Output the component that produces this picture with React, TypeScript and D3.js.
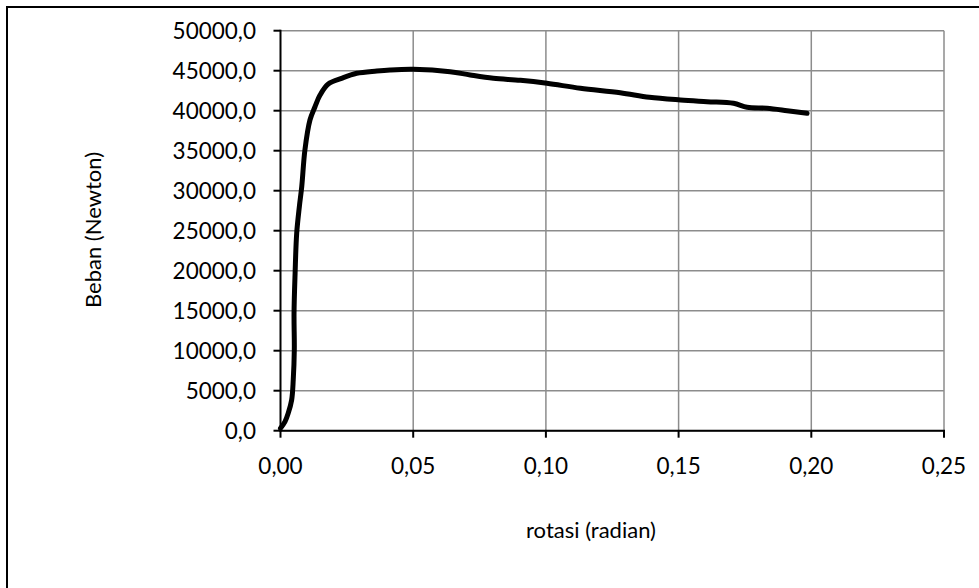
import React from "react";
import * as d3 from "d3";

const rotasi = [0, 0.0017, 0.0029, 0.0042, 0.0048, 0.0052, 0.0051, 0.0055, 0.0061, 0.0071, 0.008, 0.0092, 0.0111, 0.013, 0.0149, 0.018, 0.023, 0.0287, 0.0363, 0.0413, 0.05, 0.0639, 0.0715, 0.0802, 0.0904, 0.1004, 0.113, 0.128, 0.139, 0.1507, 0.1607, 0.1707, 0.1758, 0.1833, 0.1909, 0.1984];
const beban = [300, 1125, 2170, 3840, 6340, 10090, 14675, 19675, 24675, 28000, 30500, 35090, 38840, 40500, 41960, 43340, 44050, 44675, 44960, 45090, 45170, 44880, 44460, 44050, 43800, 43425, 42800, 42250, 41675, 41340, 41130, 40925, 40425, 40300, 40000, 39675];

const xTicks = [0, 0.05, 0.1, 0.15, 0.2, 0.25];
const yTicks = [0, 5000, 10000, 15000, 20000, 25000, 30000, 35000, 40000, 45000, 50000];
const xTickLabels = ["0,00", "0,05", "0,10", "0,15", "0,20", "0,25"];
const yTickLabels = yTicks.map((v) => `${v},0`);

const W = 979;
const H = 588;
const FONT = "Lato, 'Open Sans', sans-serif";

export default function App() {
  const x = d3.scaleLinear().domain([0, 0.25]).range([280.5, 944]);
  const y = d3.scaleLinear().domain([0, 50000]).range([430.7, 30.7]);
  const pts: [number, number][] = rotasi.map((r, i) => [r, beban[i]]);
  const line = d3
    .line<[number, number]>()
    .x((d) => x(d[0]))
    .y((d) => y(d[1]))
    .curve(d3.curveMonotoneY);
  const linePath = d3
    .line<[number, number]>()
    .x((d) => x(d[0]))
    .y((d) => y(d[1]))
    .curve(d3.curveCatmullRom.alpha(0.5));

  return (
    <svg
      width={W}
      height={H}
      style={{ position: "absolute", left: 0, top: 0, background: "#fff" }}
    >
      <rect x={0} y={0} width={W} height={H} fill="#fff" />
      <rect x={7} y={7} width={W} height={H} fill="none" stroke="#000" strokeWidth={2} />
      {/* grid */}
      {yTicks.map((t) => (
        <line key={"gy" + t} x1={x(0)} x2={x(0.25)} y1={y(t)} y2={y(t)} stroke="#8c8c8c" strokeWidth={1.5} />
      ))}
      {xTicks.slice(1).map((t) => (
        <line key={"gx" + t} x1={x(t)} x2={x(t)} y1={y(0)} y2={y(50000)} stroke="#8c8c8c" strokeWidth={1.5} />
      ))}
      {/* axes */}
      <line x1={x(0)} x2={x(0)} y1={y(0) + 1} y2={y(50000) - 1} stroke="#000" strokeWidth={2} />
      <line x1={x(0) - 1} x2={x(0.25) + 1} y1={y(0)} y2={y(0)} stroke="#000" strokeWidth={2} />
      {yTicks.map((t) => (
        <line key={"ty" + t} x1={x(0) - 7} x2={x(0)} y1={y(t)} y2={y(t)} stroke="#000" strokeWidth={2} />
      ))}
      {xTicks.map((t) => (
        <line key={"tx" + t} x1={x(t)} x2={x(t)} y1={y(0)} y2={y(0) + 7} stroke="#000" strokeWidth={2} />
      ))}
      {/* series */}
      <path d={linePath(pts) || ""} fill="none" stroke="#000" strokeWidth={5} strokeLinejoin="round" strokeLinecap="round" />
      {/* tick labels */}
      {yTicks.map((t, i) => (
        <text key={"ly" + t} x={256} y={y(t)} dy="0.35em" textAnchor="end" fontFamily={FONT} fontSize={22.5} fill="#000">
          {yTickLabels[i]}
        </text>
      ))}
      {xTicks.map((t, i) => (
        <text key={"lx" + t} x={x(t)} y={474} textAnchor="middle" fontFamily={FONT} fontSize={22.5} fill="#000">
          {xTickLabels[i]}
        </text>
      ))}
      <text x={591} y={538} textAnchor="middle" fontFamily={FONT} fontSize={22} fill="#000">
        rotasi (radian)
      </text>
      <text transform={`translate(101,230) rotate(-90)`} textAnchor="middle" fontFamily={FONT} fontSize={22} fill="#000">
        Beban (Newton)
      </text>
    </svg>
  );
}
